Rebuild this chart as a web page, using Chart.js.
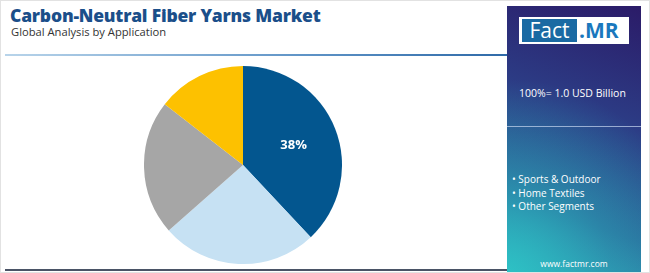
<!DOCTYPE html>
<html><head><meta charset="utf-8">
<script src="https://cdn.jsdelivr.net/npm/chart.js@4/dist/chart.umd.min.js"></script>
<style>
html,body{margin:0;padding:0;background:#fff;}
#root{position:relative;width:650px;height:273px;overflow:hidden;font-family:"Open Sans",sans-serif;box-sizing:border-box;border:1px solid #e2e2e2;}
#title{position:absolute;left:9px;top:2px;font-size:17.5px;font-weight:800;color:#1b4f8a;letter-spacing:-0.2px;white-space:nowrap;}
#sub{position:absolute;left:10px;top:23px;font-size:11.2px;color:#333;white-space:nowrap;}
#topline{position:absolute;left:4px;top:53px;width:503px;height:2px;background:linear-gradient(90deg,#b8d4ea,#5e93c6 60%,#2f6aa8);}
#botline{position:absolute;left:4px;top:268px;width:503px;height:2px;background:#4a5366;}
#panel{position:absolute;left:506px;top:5px;width:134px;height:267px;background:linear-gradient(200deg,#2b1b68 0%,#2c3d86 40%,#2a6b9c 75%,#2fa6b8 100%);overflow:hidden;}
#panelglow{position:absolute;left:0;top:0;width:100%;height:100%;background:radial-gradient(circle at 0% 100%,rgba(45,200,200,0.8) 0%,rgba(45,180,190,0.35) 35%,rgba(45,150,180,0) 65%);}
#logo{position:absolute;left:12px;top:11px;width:110px;height:27px;background:#fff;}
#fact{position:absolute;left:3px;top:2px;width:55px;height:23px;background:#1a6aa3;color:#fff;font-size:21px;line-height:23px;font-family:"Open Sans",sans-serif;text-align:center;}
#mr{position:absolute;left:60px;top:1px;color:#1a78bd;font-size:21px;font-weight:700;line-height:25px;font-family:"Open Sans",sans-serif;}
#total{position:absolute;left:12px;top:79px;color:#fff;font-size:10.5px;line-height:16px;white-space:nowrap;}
#divider{position:absolute;left:0;top:120px;width:134px;height:1px;background:rgba(200,215,240,0.7);}
#legend{position:absolute;left:5px;top:167px;color:#fff;font-size:10px;line-height:13.7px;white-space:nowrap;}
#url{position:absolute;left:0;top:252px;width:134px;text-align:center;color:#fff;font-size:8.5px;}
#chartbox{position:absolute;left:143px;top:65px;width:198px;height:198px;}
</style></head>
<body><div id="root">
<div id="title"></div>
<div id="sub"></div>
<div id="topline"></div>
<div id="botline"></div>
<div id="chartbox"><canvas id="c"></canvas></div>
<div id="panel"><div id="panelglow"></div>
 <div id="logo"><div id="fact">Fact</div><div id="mr">.MR</div></div>
 <div id="total"></div>
 <div id="divider"></div>
 <div id="legend"></div>
 <div id="url">www.factmr.com</div>
</div>
</div>
<script>
const titleText = "Carbon-Neutral Fiber Yarns Market";
const subtitleText = "Global Analysis by Application";
const totalText = "100%= 1.0 USD Billion";
const categories = ["Apparel & Fashion", "Sports & Outdoor", "Home Textiles", "Other Segments"];
const shares = [38, 25.5, 22, 14.5];
const sliceColors = ["#03568f", "#c6e1f3", "#a6a6a6", "#fdc100"];
const legendItems = ["Sports & Outdoor", "Home Textiles", "Other Segments"];
const labeledSlices = [0];

document.getElementById('title').textContent = titleText;
document.getElementById('sub').textContent = subtitleText;
document.getElementById('total').textContent = totalText;
document.getElementById('legend').innerHTML = legendItems.map(s => '\u2022 ' + s).join('<br>');

const sliceLabel = {
  id: 'sliceLabel',
  afterDatasetsDraw(chart) {
    const ctx = chart.ctx;
    const meta = chart.getDatasetMeta(0);
    ctx.save();
    ctx.fillStyle = '#fff';
    ctx.font = 'bold 13px "Open Sans", sans-serif';
    ctx.textAlign = 'center';
    ctx.textBaseline = 'middle';
    labeledSlices.forEach(i => {
      const arc = meta.data[i];
      const mid = (arc.startAngle + arc.endAngle) / 2;
      const r = arc.outerRadius * 0.55;
      ctx.fillText(Math.round(shares[i]) + '%', arc.x + Math.cos(mid) * r, arc.y + Math.sin(mid) * r);
    });
    ctx.restore();
  }
};

new Chart(document.getElementById('c'), {
  type: 'pie',
  data: { labels: categories, datasets: [{ data: shares, backgroundColor: sliceColors, borderWidth: 0 }] },
  options: {
    responsive: true, maintainAspectRatio: false, animation: false,
    layout: { padding: 0 },
    plugins: { legend: { display: false }, tooltip: { enabled: false } }
  },
  plugins: [sliceLabel]
});
</script>
</body></html>
